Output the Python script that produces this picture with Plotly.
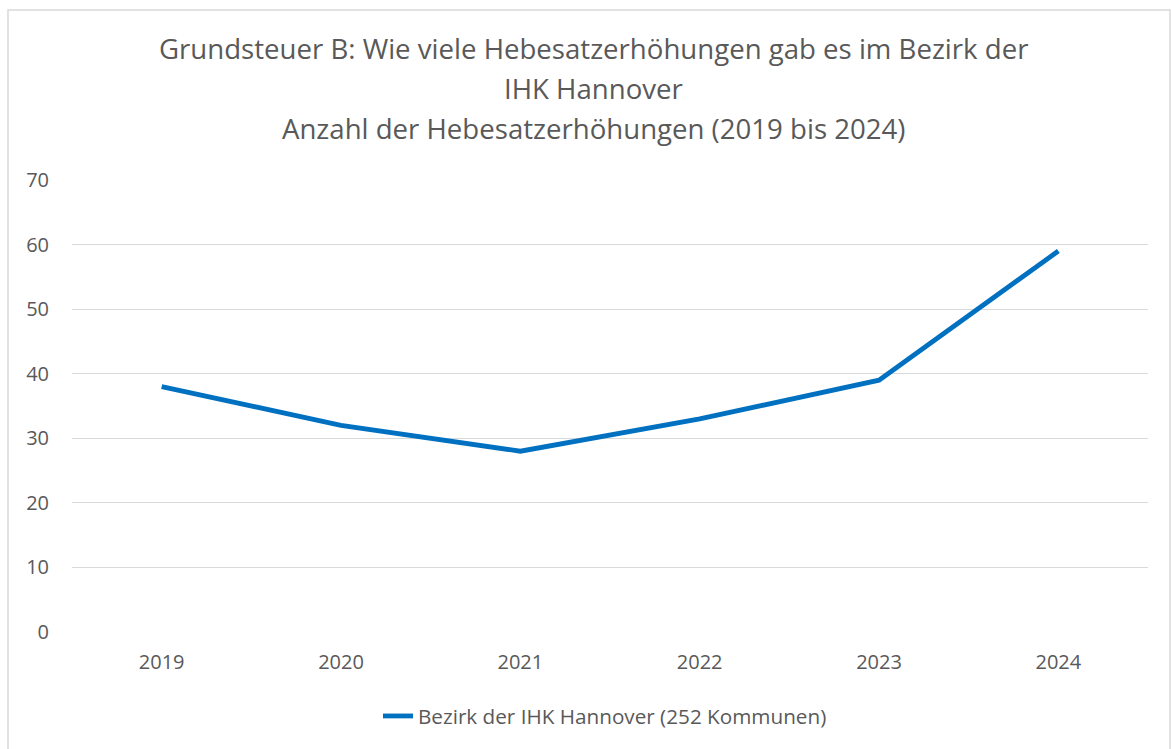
import plotly.graph_objects as go

years = ["2019", "2020", "2021", "2022", "2023", "2024"]
values = [38, 32, 28, 33, 39, 59]
series_name = "Bezirk der IHK Hannover (252 Kommunen)"
title_lines = [
    "Grundsteuer B: Wie viele Hebesatzerhöhungen gab es im Bezirk der",
    "IHK Hannover",
    "Anzahl der Hebesatzerhöhungen (2019 bis 2024)",
]

W, H = 1171, 749
L, R, T, B = 72, 23, 180, 117
pw, ph = W - L - R, H - T - B

def px(x):
    return (x - L) / pw

def py(y):
    return (H - B - y) / ph

font = "Open Sans"
gray = "#595959"

fig = go.Figure()
fig.add_trace(go.Scatter(
    x=years, y=values, mode="lines", name=series_name,
    line=dict(color="#0070C0", width=4.8),
))

annotations = []
for i, t in enumerate(title_lines):
    annotations.append(dict(
        text=t, xref="paper", yref="paper", x=px(593), y=py(48 + 40 * i),
        xanchor="center", yanchor="middle", showarrow=False,
        font=dict(family=font, size=27.6, color=gray),
    ))

fig.update_layout(
    width=W, height=H,
    margin=dict(l=L, r=R, t=T, b=B),
    paper_bgcolor="white", plot_bgcolor="white",
    showlegend=True,
    legend=dict(orientation="h", x=px(605), xanchor="center", y=py(716), yanchor="middle",
                font=dict(family=font, size=20.7, color=gray)),
    xaxis=dict(type="category", showgrid=False, showline=False, zeroline=False,
               ticks="", tickfont=dict(family=font, size=20, color=gray),
               range=[-0.5, 5.5], ticklabelstandoff=16),
    yaxis=dict(range=[0, 70], dtick=10, showgrid=True, gridcolor="#D9D9D9", gridwidth=1,
               zeroline=False, showline=False, ticks="",
               tickfont=dict(family=font, size=20, color=gray), ticklabelstandoff=22),
    annotations=annotations,
    shapes=[dict(type="rect", xref="paper", yref="paper",
                 x0=px(8), x1=px(1170), y0=py(760), y1=py(10),
                 line=dict(color="#D9D9D9", width=1.5), layer="below")],
)

fig.write_html("out.html", config={"displayModeBar": False},
               post_script="document.body.style.margin='0px';")
